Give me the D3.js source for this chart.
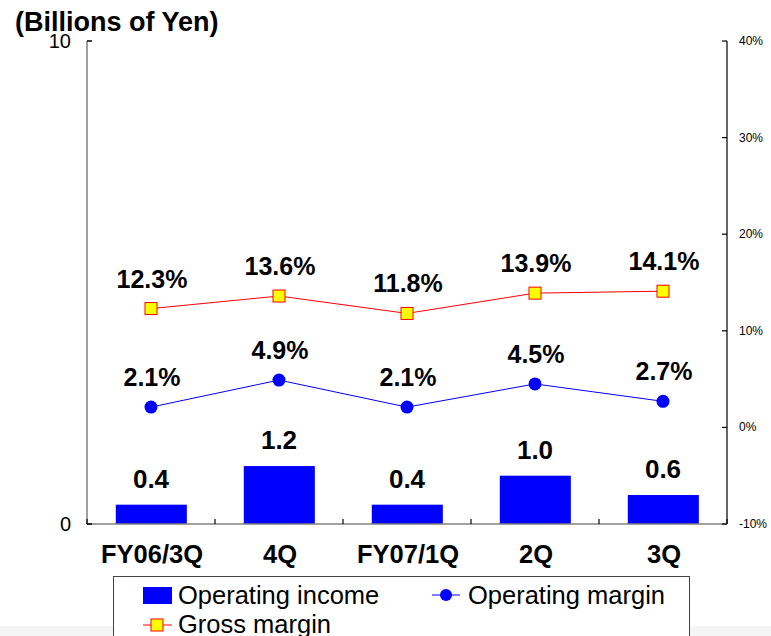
<!DOCTYPE html>
<html>
<head>
<meta charset="utf-8">
<script src="https://cdn.jsdelivr.net/npm/d3@7/dist/d3.min.js"></script>
<style>
  html, body { margin: 0; padding: 0; background: #fff; overflow: hidden; }
  svg { display: block; font-family: Arial, "Liberation Sans", sans-serif; }
</style>
</head>
<body>
<div id="chart"></div>
<script>
var categories = ['FY06/3Q', '4Q', 'FY07/1Q', '2Q', '3Q'];
var operatingIncome = [0.4, 1.2, 0.4, 1.0, 0.6];
var operatingMargin = [2.1, 4.9, 2.1, 4.5, 2.7];
var grossMargin = [12.3, 13.6, 11.8, 13.9, 14.1];
var leftTicks = [0, 10];
var rightTicks = [-10, 0, 10, 20, 30, 40];

var width = 771, height = 636;
var margin = {top: 41, right: 44, bottom: 112, left: 87};

var svg = d3.select('#chart').append('svg')
    .attr('width', width)
    .attr('height', height);

// faint band at the bottom of the page
svg.append('rect')
  .attr('x', 0).attr('y', 626)
  .attr('width', width).attr('height', 10)
  .attr('fill', '#f5f5f5');

var x = d3.scaleBand()
    .domain(categories)
    .range([margin.left, width - margin.right]);

var yL = d3.scaleLinear()
    .domain([0, 10])
    .range([height - margin.bottom, margin.top]);

var yR = d3.scaleLinear()
    .domain([-10, 40])
    .range([height - margin.bottom, margin.top]);

var x0 = margin.left, x1 = width - margin.right, yb = height - margin.bottom;

// title
svg.append('text')
  .attr('x', 15)
  .attr('y', 31)
  .style('font-size', '27px')
  .style('font-weight', 'bold')
  .text('(Billions of Yen)');

// bars
svg.selectAll('.bar')
  .data(operatingIncome)
  .enter().append('rect')
  .attr('class', 'bar')
  .attr('x', function(d, i) { return x(categories[i]) + x.bandwidth() * 0.225; })
  .attr('width', x.bandwidth() * 0.555)
  .attr('y', function(d) { return yL(d); })
  .attr('height', function(d) { return yL(0) - yL(d); })
  .attr('fill', '#0000ff');

svg.selectAll('.bar-label')
  .data(operatingIncome)
  .enter().append('text')
  .attr('class', 'bar-label')
  .attr('x', function(d, i) { return x(categories[i]) + x.bandwidth() / 2; })
  .attr('y', function(d) { return yL(d) - 17; })
  .attr('text-anchor', 'middle')
  .style('font-size', '26px')
  .style('font-weight', 'bold')
  .text(function(d) { return d.toFixed(1); });

// axes lines
svg.append('line')
  .attr('x1', x0).attr('x2', x0)
  .attr('y1', yL(10)).attr('y2', yb)
  .attr('stroke', '#808080').attr('stroke-width', 1.5);
svg.append('line')
  .attr('x1', x1).attr('x2', x1)
  .attr('y1', yR(40)).attr('y2', yb)
  .attr('stroke', '#333').attr('stroke-width', 1.5);
svg.append('line')
  .attr('x1', x0).attr('x2', x1)
  .attr('y1', yb).attr('y2', yb)
  .attr('stroke', '#808080').attr('stroke-width', 1.5);

// left ticks
leftTicks.forEach(function(t) {
  svg.append('line')
    .attr('x1', x0).attr('x2', x0 + 5)
    .attr('y1', yL(t)).attr('y2', yL(t))
    .attr('stroke', '#000').attr('stroke-width', 1.5);
  svg.append('text')
    .attr('x', 71)
    .attr('y', yL(t) + 7)
    .attr('text-anchor', 'end')
    .style('font-size', '20px')
    .text(t);
});

// right ticks
rightTicks.forEach(function(t) {
  svg.append('line')
    .attr('x1', x1 - 5).attr('x2', x1)
    .attr('y1', yR(t)).attr('y2', yR(t))
    .attr('stroke', '#000').attr('stroke-width', 1.2);
  svg.append('text')
    .attr('x', 739)
    .attr('y', yR(t) + 4)
    .style('font-size', '12px')
    .text(t + '%');
});

// category ticks
var bounds = categories.map(function(c) { return x(c); }).concat([x1]);
bounds.forEach(function(b) {
  svg.append('line')
    .attr('x1', b).attr('x2', b)
    .attr('y1', yb).attr('y2', yb - 5)
    .attr('stroke', '#000').attr('stroke-width', 1.2);
});

svg.selectAll('.cat')
  .data(categories)
  .enter().append('text')
  .attr('class', 'cat')
  .attr('x', function(d) { return x(d) + x.bandwidth() / 2 + 1; })
  .attr('y', 563)
  .attr('text-anchor', 'middle')
  .style('font-size', '25.5px')
  .style('font-weight', 'bold')
  .text(function(d) { return d; });

// lines
var cx = function(d, i) { return x(categories[i]) + x.bandwidth() / 2; };

var line = d3.line()
    .x(function(d, i) { return cx(d, i); })
    .y(function(d) { return yR(d); });

svg.append('path')
  .datum(grossMargin)
  .attr('d', line)
  .attr('fill', 'none')
  .attr('stroke', '#ff0000')
  .attr('stroke-width', 1);

svg.append('path')
  .datum(operatingMargin)
  .attr('d', line)
  .attr('fill', 'none')
  .attr('stroke', '#0000ff')
  .attr('stroke-width', 1);

svg.selectAll('.gm')
  .data(grossMargin)
  .enter().append('rect')
  .attr('class', 'gm')
  .attr('x', function(d, i) { return cx(d, i) - 6; })
  .attr('y', function(d) { return yR(d) - 6; })
  .attr('width', 12).attr('height', 12)
  .attr('fill', '#ffff00')
  .attr('stroke', '#ff0000')
  .attr('stroke-width', 1);

svg.selectAll('.om')
  .data(operatingMargin)
  .enter().append('circle')
  .attr('class', 'om')
  .attr('cx', cx)
  .attr('cy', function(d) { return yR(d); })
  .attr('r', 6.5)
  .attr('fill', '#0000ff');

function pctLabels(data, cls) {
  svg.selectAll('.' + cls)
    .data(data)
    .enter().append('text')
    .attr('class', cls)
    .attr('x', function(d, i) { return cx(d, i) + 1; })
    .attr('y', function(d) { return yR(d) - 21; })
    .attr('text-anchor', 'middle')
    .style('font-size', '25px')
    .style('font-weight', 'bold')
    .text(function(d) { return d.toFixed(1) + '%'; });
}
pctLabels(grossMargin, 'gm-label');
pctLabels(operatingMargin, 'om-label');

// legend
var lg = svg.append('g');
lg.append('rect')
  .attr('x', 113.5).attr('y', 576.5)
  .attr('width', 576).attr('height', 80)
  .attr('fill', '#fff')
  .attr('stroke', '#444')
  .attr('stroke-width', 1);

lg.append('rect')
  .attr('x', 143).attr('y', 587)
  .attr('width', 29).attr('height', 17)
  .attr('fill', '#0000ff');
lg.append('text')
  .attr('x', 178).attr('y', 604)
  .style('font-size', '25.5px')
  .text('Operating income');

lg.append('line')
  .attr('x1', 432).attr('x2', 460)
  .attr('y1', 595).attr('y2', 595)
  .attr('stroke', '#0000ff');
lg.append('circle')
  .attr('cx', 446).attr('cy', 595).attr('r', 6)
  .attr('fill', '#0000ff');
lg.append('text')
  .attr('x', 468).attr('y', 604)
  .style('font-size', '25.5px')
  .text('Operating margin');

lg.append('line')
  .attr('x1', 143).attr('x2', 172)
  .attr('y1', 625).attr('y2', 625)
  .attr('stroke', '#ff0000');
lg.append('rect')
  .attr('x', 151).attr('y', 619)
  .attr('width', 12).attr('height', 12)
  .attr('fill', '#ffff00')
  .attr('stroke', '#ff0000');
lg.append('text')
  .attr('x', 178).attr('y', 633)
  .style('font-size', '25.5px')
  .text('Gross margin');
</script>
</body>
</html>
